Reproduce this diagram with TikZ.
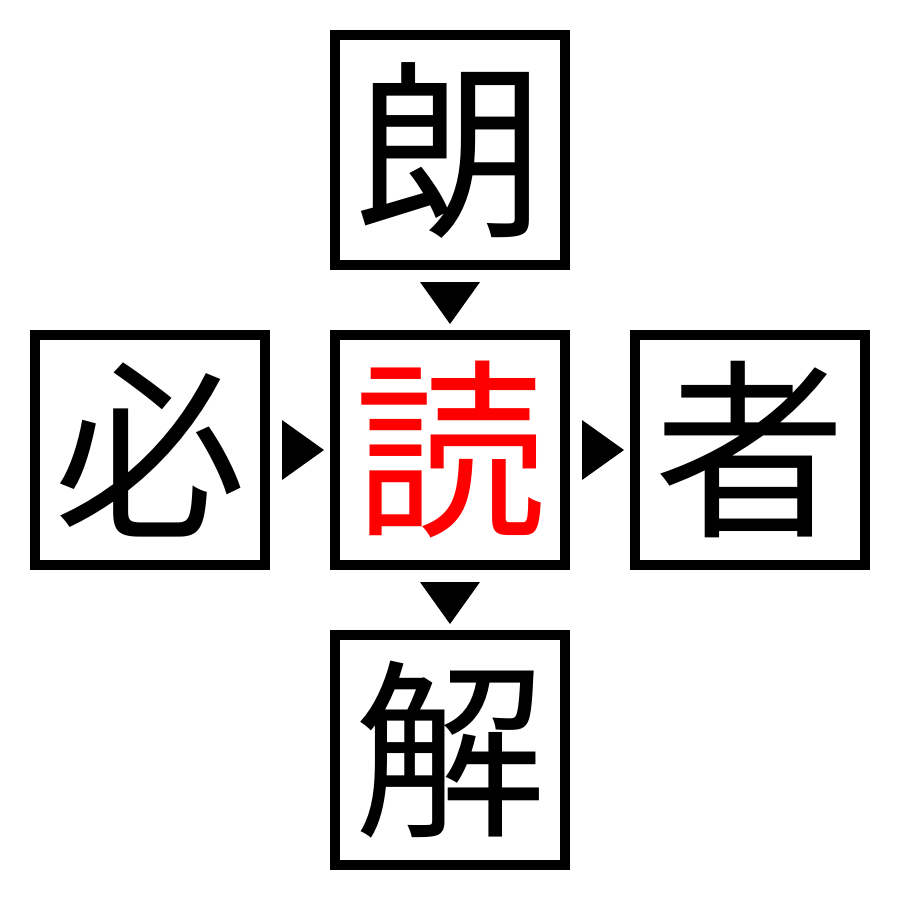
\documentclass[tikz,border=0pt]{standalone}
\usepackage{fontspec}
\newfontfamily\cjk{Noto Sans CJK JP}
\begin{document}
\begin{tikzpicture}[x=1pt,y=-1pt,
  kbox/.style={draw=black,line width=10pt,minimum size=230pt,inner sep=0pt,
    font=\cjk\fontsize{192}{192}\selectfont,text=black},
  tri/.style={fill=black,draw=none}]
\useasboundingbox (0,0) rectangle (900,900);
\node[kbox] (top) at (450,150) {朗};
\node[kbox] (left) at (150,450) {必};
\node[kbox,text=red] (mid) at (450,450) {読};
\node[kbox] (right) at (750,450) {者};
\node[kbox] (bot) at (450,750) {解};
\coordinate (t1) at (450,303);
\coordinate (l1) at (303,450);
\coordinate (r1) at (603,450);
\coordinate (b1) at (450,603);
\fill[tri] ([shift={(-30,-21)}]t1) -- ([shift={(30,-21)}]t1) -- ([shift={(0,21)}]t1) -- cycle;
\fill[tri] ([shift={(-30,-21)}]b1) -- ([shift={(30,-21)}]b1) -- ([shift={(0,21)}]b1) -- cycle;
\fill[tri] ([shift={(-21,-30)}]l1) -- ([shift={(-21,30)}]l1) -- ([shift={(21,0)}]l1) -- cycle;
\fill[tri] ([shift={(-21,-30)}]r1) -- ([shift={(-21,30)}]r1) -- ([shift={(21,0)}]r1) -- cycle;
\end{tikzpicture}
\end{document}
